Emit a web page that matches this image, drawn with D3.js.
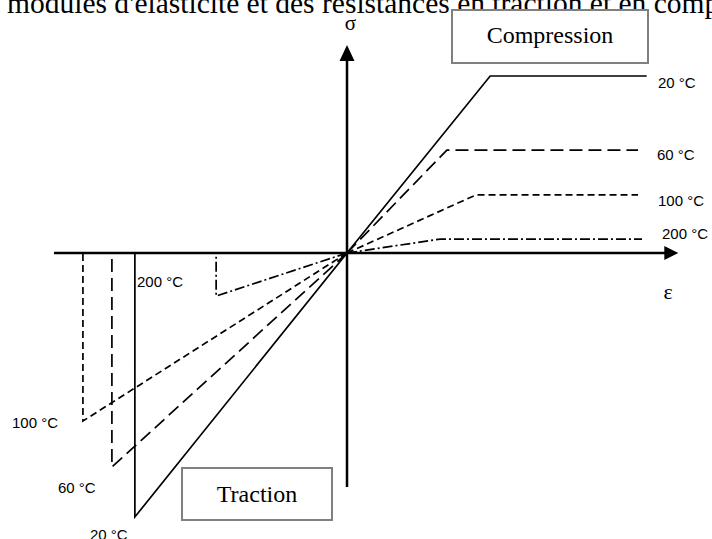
<!DOCTYPE html>
<html>
<head>
<meta charset="utf-8">
<script src="https://cdn.jsdelivr.net/npm/d3@7"></script>
<style>
  body { margin: 0; background: #fff; }
  svg { display: block; }
</style>
</head>
<body>
<div id="d3_container"></div>
<script>

const width = 712, height = 539;

// temperatures, line styles keyed by index
const temps = ["20 °C", "60 °C", "100 °C", "200 °C"];
const dashes = [null, "13,6", "7,4", "10,3,2,3"];

// compression branch : knee (strain, stress) and end strain
const compKneeEps = [0.43, 0.30, 0.387, 0.28];
const compStress  = [0.851, 0.495, 0.279, 0.067];
const compEndEps  = [0.90, 0.874, 0.874, 0.886];

// traction branch : failure point (strain, stress)
const tracEps    = [-0.637, -0.706, -0.793, -0.393];
const tracStress = [-1.269, -1.029, -0.808, -0.207];

const serif = "Liberation Serif, Times New Roman, serif";
const sans = "Liberation Sans, Arial, sans-serif";

const svg = d3.select("#d3_container").append("svg")
    .attr("width", width)
    .attr("height", height);

const x = d3.scaleLinear().domain([0, 1]).range([347, 680]);
const y = d3.scaleLinear().domain([0, 1]).range([253, 45]);

// title, cut at top of the picture
svg.append("text")
    .attr("x", 7)
    .attr("y", 13)
    .style("font-family", serif)
    .style("font-size", "29.5px")
    .text("modules d'élasticité et des résistances en traction et en compression");

// axes
svg.append("line")
    .attr("x1", x(-0.88)).attr("y1", y(0))
    .attr("x2", x(0.97)).attr("y2", y(0))
    .attr("stroke", "#000").attr("stroke-width", 2.5);
svg.append("path")
    .attr("d", `M${x(0.995)},${y(0)} L${x(0.995) - 14},${y(0) - 7} L${x(0.995) - 14},${y(0) + 7} Z`)
    .attr("fill", "#000");

svg.append("line")
    .attr("x1", x(0)).attr("y1", y(-1.125))
    .attr("x2", x(0)).attr("y2", y(0.95))
    .attr("stroke", "#000").attr("stroke-width", 2.5);
svg.append("path")
    .attr("d", `M${x(0)},${y(1)} L${x(0) - 7.5},${y(1) + 16} L${x(0) + 7.5},${y(1) + 16} Z`)
    .attr("fill", "#000");

svg.append("text")
    .attr("x", 350.5).attr("y", 30)
    .attr("text-anchor", "middle")
    .style("font-family", serif)
    .style("font-size", "21px")
    .text("σ");
svg.append("text")
    .attr("x", 668).attr("y", 299)
    .attr("text-anchor", "middle")
    .style("font-family", serif)
    .style("font-size", "22px")
    .text("ε");

const line = d3.line().x(d => x(d[0])).y(d => y(d[1]));

temps.forEach((t, i) => {
    const comp = [[0, 0], [compKneeEps[i], compStress[i]], [compEndEps[i], compStress[i]]];
    const trac = [[0, 0], [tracEps[i], tracStress[i]], [tracEps[i], 0]];
    [comp, trac].forEach(pts => {
        svg.append("path")
            .attr("d", line(pts))
            .attr("fill", "none")
            .attr("stroke", "#000")
            .attr("stroke-width", 1.7)
            .attr("stroke-dasharray", dashes[i]);
    });
});

// temperature labels
const lab = svg.append("g")
    .style("font-family", sans)
    .style("font-size", "15px");

const compLabelX = [658, 657, 658, 662];
const compLabelDy = [12, 10, 11, 0];
temps.forEach((t, i) => {
    lab.append("text")
        .attr("x", compLabelX[i])
        .attr("y", y(compStress[i]) + compLabelDy[i])
        .text(t);
});

const tracLabelX = [90, 58, 12, 137];
const tracLabelY = [540, 493, 428, 287];
temps.forEach((t, i) => {
    lab.append("text")
        .attr("x", tracLabelX[i])
        .attr("y", tracLabelY[i])
        .text(t);
});

// boxes
const boxes = [
    {label: "Compression", x: 452, y: 10, w: 196, h: 53, base: 43},
    {label: "Traction", x: 182, y: 468, w: 150, h: 52, base: 502}
];
boxes.forEach(b => {
    svg.append("rect")
        .attr("x", b.x).attr("y", b.y)
        .attr("width", b.w).attr("height", b.h)
        .attr("fill", "#fff")
        .attr("stroke", "#808080")
        .attr("stroke-width", 2);
    svg.append("text")
        .attr("x", b.x + b.w / 2).attr("y", b.base)
        .attr("text-anchor", "middle")
        .style("font-family", serif)
        .style("font-size", "24px")
        .text(b.label);
});

</script>
</body>
</html>
